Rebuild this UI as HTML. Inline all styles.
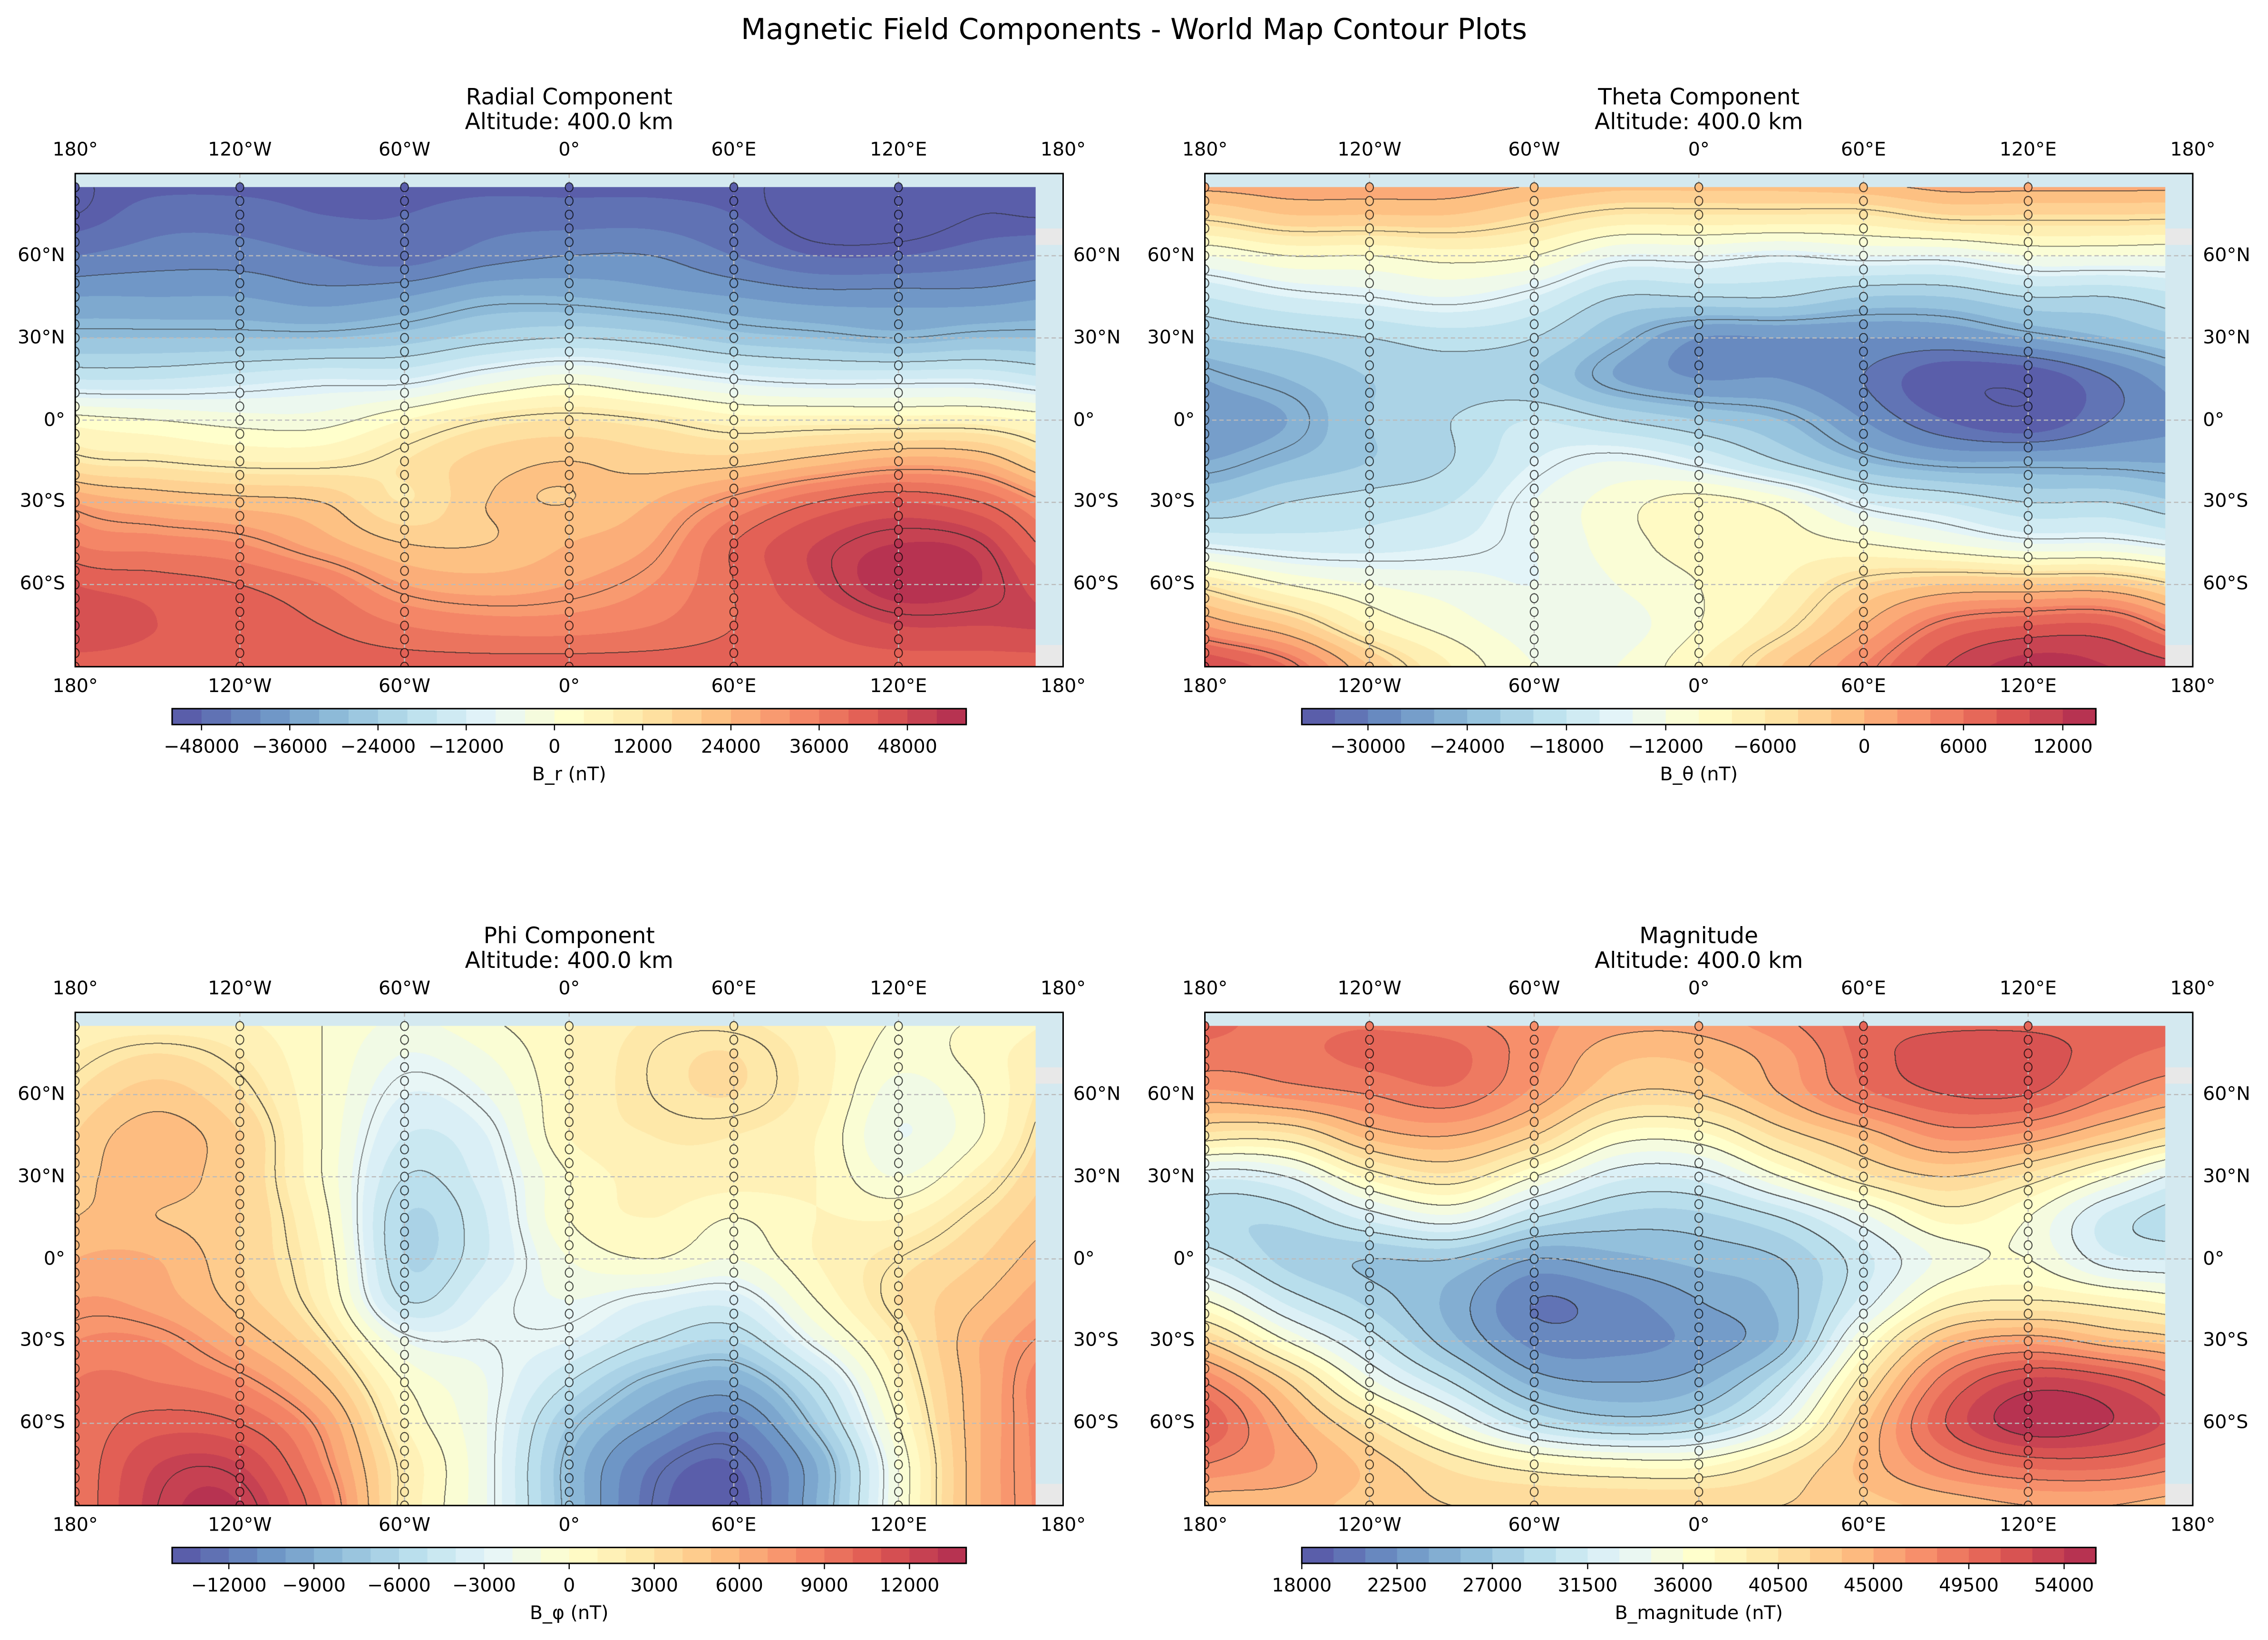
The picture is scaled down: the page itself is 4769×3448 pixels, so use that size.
<!DOCTYPE html>
<html><head><meta charset="utf-8">
<style>
html,body{margin:0;padding:0;background:#fff;width:4769px;height:3448px;overflow:hidden}
#root{position:absolute;left:0;top:0;width:1568px;height:1134px;transform:scale(3.04145,3.0406);transform-origin:0 0;font-family:"DejaVu Sans","Liberation Sans",sans-serif;color:#000}
.t{position:absolute;white-space:nowrap;transform:translate(-50%,-50%);line-height:1}
.r{transform:translate(-100%,-50%)}
.l{transform:translate(0,-50%)}
canvas{position:absolute}
svg{position:absolute;overflow:visible}
</style></head><body>
<div id="root">
<div class="t" style="left:784px;top:20px;font-size:20px">Magnetic Field Components - World Map Contour Plots</div>
</div>
<script>
// ---- data grids: rows lat 90..-90 step 15, cols lon -180..150 step 30 ----
const gridLats=[90,75,60,45,30,15,0,-15,-30,-45,-60,-75,-90];
const gridLons=[-180,-150,-120,-90,-60,-30,0,30,60,90,120,150];
const radialValues=[
[-50000,-50000,-50000,-50000,-50000,-50000,-50000,-50000,-50000,-50000,-50000,-50000],
[-50000,-46000,-46000,-48000,-48000,-46000,-46000,-46000,-48000,-52000,-52000,-50000],
[-44000,-42000,-42000,-44000,-46000,-42000,-40000,-40000,-44000,-48000,-48000,-46000],
[-36000,-36000,-36000,-38000,-36000,-32000,-32000,-34000,-36000,-38000,-38000,-38000],
[-28000,-28000,-28000,-28000,-26000,-22000,-20000,-22000,-26000,-28000,-30000,-28000],
[-16000,-16000,-14000,-12000,-12000,-6000,-2000,-6000,-10000,-12000,-12000,-12000],
[2000,0,-2000,-2000,4000,10000,12000,10000,6000,6000,6000,6000],
[12000,10000,8000,8000,12000,18000,20000,18000,18000,22000,26000,24000],
[28000,24000,22000,20000,12000,20000,20000,24000,32000,40000,44000,40000],
[36000,34000,32000,26000,20000,20000,24000,28000,40000,48000,52000,50000],
[44000,42000,40000,36000,28000,26000,28000,32000,40000,48000,54000,52000],
[48000,44000,42000,40000,36000,34000,34000,36000,40000,44000,48000,48000],
[42000,42000,42000,42000,42000,42000,42000,42000,42000,42000,42000,42000]];
const thetaValues=[
[2000,2000,2000,2000,1000,0,0,0,1000,2000,2000,2000],
[-4000,-2000,-2000,-2000,-4000,-6000,-6000,-6000,-6000,-4000,-4000,-4000],
[-12000,-10000,-10000,-9000,-10000,-14000,-14000,-15000,-14000,-14000,-12000,-12000],
[-18000,-16000,-15000,-14000,-16000,-20000,-20000,-20000,-22000,-22000,-20000,-20000],
[-22000,-21000,-20000,-19000,-20000,-24000,-28000,-28000,-28000,-28000,-26000,-24000],
[-26000,-24000,-22000,-21000,-22000,-26000,-28000,-28000,-30000,-34000,-34000,-30000],
[-28000,-26000,-22000,-20000,-18000,-20000,-22000,-24000,-28000,-32000,-34000,-30000],
[-26000,-24000,-22000,-20000,-16000,-14000,-16000,-20000,-24000,-26000,-26000,-26000],
[-22000,-20000,-19000,-18000,-14000,-11000,-9000,-11000,-16000,-18000,-20000,-20000],
[-16000,-17000,-17000,-16000,-14000,-11000,-9000,-9000,-10000,-12000,-14000,-14000],
[-6000,-10000,-12000,-13000,-14000,-12000,-10000,-8000,-4000,-2000,-2000,-2000],
[2000,-2000,-8000,-11000,-13000,-13000,-10000,-6000,0,6000,8000,8000],
[10000,6000,-2000,-8000,-12000,-12000,-8000,-2000,4000,10000,13000,12000]];
const phiValues=[
[1000,1000,1000,0,-1000,0,1000,2000,2000,1000,0,0],
[2000,3000,2000,0,-2000,-1000,1000,2500,3000,1500,-500,500],
[3000,4500,3000,0,-3000,-2000,1000,2500,3000,1500,-1500,0],
[4000,5500,4000,0,-4000,-3000,1000,2000,2000,1000,-2000,0],
[4500,5500,4000,0,-5000,-3500,0,1500,1500,1000,-1000,1500],
[5000,5000,4000,500,-6000,-4000,0,1000,0,1000,1000,3000],
[6000,6000,4000,1000,-6000,-4000,-1000,0,-1000,1000,2500,4000],
[7000,6500,4500,1500,-5000,-3000,-2000,-3000,-3500,0,3000,5000],
[8000,8000,6000,3000,-2000,-2500,-3000,-5000,-6000,-2000,2000,6000],
[9000,9000,8000,5000,0,-2000,-5000,-8000,-9000,-5000,1000,6000],
[9000,10500,10000,7000,1000,-2000,-7000,-10000,-11500,-7000,0,6000],
[9000,12000,12000,8000,2000,-2000,-8000,-12000,-13000,-9000,-1000,6000],
[9000,12500,13000,9000,2000,-2000,-8000,-12500,-13500,-9000,-1000,6000]];
const magnitudeValues=[
[50000,49000,49000,48000,47000,46000,46000,48000,50000,50000,50000,50000],
[49000,49000,50000,50000,47000,44000,44000,46000,50000,52000,52000,50000],
[46000,47000,48000,49000,46000,42000,42000,45000,49000,51000,51000,48000],
[40000,40000,44000,45000,42000,37000,37000,41000,44000,47000,46000,43000],
[32000,33000,38000,40000,36000,32000,32000,36000,40000,42000,40000,36000],
[29000,29000,32000,34000,30000,28000,28000,30000,34000,38000,36000,31000],
[31000,28000,27000,27000,24000,25000,26000,27000,31000,35000,36000,32000],
[36000,31000,28000,25000,21000,22000,24000,26000,32000,38000,39000,38000],
[42000,36000,31000,26000,22000,22000,23000,26000,36000,44000,46000,44000],
[48000,42000,35000,30000,25000,24000,25000,30000,40000,49000,53000,52000],
[51000,45000,40000,35000,30000,28000,29000,34000,43000,51000,55000,54000],
[48000,46000,43000,40000,38000,37000,37000,40000,44000,48000,50000,50000],
[44000,44000,43000,42000,42000,42000,42000,42000,43000,44000,45000,45000]];
const radialTicks=[-48000,-36000,-24000,-12000,0,12000,24000,36000,48000];
const thetaTicks=[-30000,-24000,-18000,-12000,-6000,0,6000,12000];
const phiTicks=[-12000,-9000,-6000,-3000,0,3000,6000,9000,12000];
const magnitudeTicks=[18000,22500,27000,31500,36000,40500,45000,49500,54000];
const lonTickLabels=["180°","120°W","60°W","0°","60°E","120°E","180°"];
const lonTickValues=[-180,-120,-60,0,60,120,180];
const latTickLabels=["60°N","30°N","0°","30°S","60°S"];
const latTickValues=[60,30,0,-30,-60];
const dotLons=[-180,-120,-60,0,60,120];

const panels=[
 {key:'radial',title:'Radial Component',x0:52,y0:120,grid:radialValues,vmin:-52000,step:4000,n:27,lineStep:10000,ticks:radialTicks,label:'B_r (nT)'},
 {key:'theta',title:'Theta Component',x0:833,y0:120,grid:thetaValues,vmin:-34000,step:2000,n:24,lineStep:5000,ticks:thetaTicks,label:'B_θ (nT)'},
 {key:'phi',title:'Phi Component',x0:52,y0:700,grid:phiValues,vmin:-14000,step:1000,n:28,lineStep:2500,ticks:phiTicks,label:'B_φ (nT)'},
 {key:'magnitude',title:'Magnitude',x0:833,y0:700,grid:magnitudeValues,vmin:18000,step:1500,n:25,lineStep:3000,ticks:magnitudeTicks,label:'B_magnitude (nT)'}
];
const AW=683,AH=341,SC=3;
const nodes=[[49,54,149],[69,117,180],[116,173,209],[171,217,233],[224,243,248],[255,255,191],[254,224,144],[253,174,97],[244,109,67],[215,48,39],[165,0,38]];
function cmap(t){t=Math.max(0,Math.min(1,t));const f=t*10,i=Math.min(9,Math.floor(f)),u=f-i;
 const c=nodes[i].map((v,k)=>v+(nodes[i+1][k]-v)*u);return c.map(v=>Math.round(v*0.8+255*0.2));}
function cr(p0,p1,p2,p3,t){return 0.5*(2*p1+(-p0+p2)*t+(2*p0-5*p1+4*p2-p3)*t*t+(-p0+3*p1-3*p2+p3)*t*t*t);}
function field(g,lon,lat){
 const fx=(lon+180)/30,i=Math.floor(fx),t=fx-i;
 const fy=(90-lat)/15,j=Math.floor(fy),u=fy-j;
 const rows=[];
 for(let r=j-1;r<=j+2;r++){const rr=g[Math.max(0,Math.min(12,r))];
  const c=k=>rr[((k%12)+12)%12];
  rows.push(cr(c(i-1),c(i),c(i+1),c(i+2),t));}
 return cr(rows[0],rows[1],rows[2],rows[3],u);}
const xOf=(p,lon)=>p.x0+(lon+180)/360*AW;
const yOf=(p,lat)=>p.y0+(90-lat)/180*AH;
const root=document.getElementById('root');
function txt(s,x,y,size,cls,name){const d=document.createElement('div');d.className='t '+(cls||'');
 d.style.left=x+'px';d.style.top=y+'px';d.style.fontSize=size+'px';d.textContent=s;
 
 
 root.appendChild(d);return d;}
const NS='http://www.w3.org/2000/svg';
function se(tag,attrs,parent){const e=document.createElementNS(NS,tag);for(const k in attrs)e.setAttribute(k,attrs[k]);parent.appendChild(e);return e;}

panels.forEach(p=>{
 const colors=[];for(let k=0;k<p.n;k++)colors.push(cmap(k/(p.n-1)));
 const cv=document.createElement('canvas');
 
 
 cv.width=AW*SC;cv.height=AH*SC;cv.style.left=p.x0+'px';cv.style.top=p.y0+'px';cv.style.width=AW+'px';cv.style.height=AH+'px';
 root.appendChild(cv);
 const ctx=cv.getContext('2d');const W=cv.width,H=cv.height;
 const img=ctx.createImageData(W,H);const d=img.data;
 const lvl=new Int16Array(W*H).fill(-9999);
 const xEnd=Math.round(350/360*W),yStart=Math.round(5/180*H);
 for(let y=0;y<H;y++){const lat=90-(y+0.5)/H*180;
  for(let x=0;x<W;x++){const o=(y*W+x)*4;
   if(x<xEnd&&y>=yStart){const lon=-180+(x+0.5)/W*360;const v=field(p.grid,lon,lat);
    let k=Math.floor((v-p.vmin)/p.step);k=Math.max(0,Math.min(p.n-1,k));const c=colors[k];
    d[o]=c[0];d[o+1]=c[1];d[o+2]=c[2];d[o+3]=255;lvl[y*W+x]=Math.floor(v/p.lineStep);}
   else{const gray=(x>=xEnd)&&((lat<70&&lat>64)||lat<-82);
    if(gray){d[o]=232;d[o+1]=232;d[o+2]=232;}else{d[o]=212;d[o+1]=233;d[o+2]=240;}d[o+3]=255;}}}
 for(let y=yStart;y<H-1;y++)for(let x=0;x<xEnd-1;x++){const a=lvl[y*W+x];
  if(a!==lvl[y*W+x+1]||a!==lvl[(y+1)*W+x]){for(const q of [y*W+x,y*W+x+1,(y+1)*W+x]){const o=q*4;
   const al=a<0?0.45:0.6;d[o]=d[o]*(1-al)+40*al;d[o+1]=d[o+1]*(1-al)+40*al;d[o+2]=d[o+2]*(1-al)+40*al;}}}
 ctx.putImageData(img,0,0);
 const sv=document.createElementNS(NS,'svg');sv.setAttribute('width',AW);sv.setAttribute('height',AH);
 sv.style.left=p.x0+'px';sv.style.top=p.y0+'px';sv.setAttribute('viewBox',`${p.x0} ${p.y0} ${AW} ${AH}`);
 
 
 root.appendChild(sv);
 const cid='clip-'+p.key;const cp=se('clipPath',{id:cid},se('defs',{},sv));se('rect',{x:p.x0,y:p.y0,width:AW,height:AH},cp);
 const g=se('g',{'clip-path':`url(#${cid})`},sv);
 latTickValues.forEach(lat=>{const l=se('line',{x1:p.x0,x2:p.x0+AW,y1:yOf(p,lat),y2:yOf(p,lat),stroke:'#bbb','stroke-width':0.8,'stroke-dasharray':'3,2'},g);
  
  });
 [-120,-60,0,60,120].forEach(lon=>{const l=se('line',{x1:xOf(p,lon),x2:xOf(p,lon),y1:p.y0,y2:p.y0+AH,stroke:'#bbb','stroke-width':0.8,'stroke-dasharray':'3,2'},g);
  
  });
 dotLons.forEach(lon=>{for(let lat=85;lat>=-90;lat-=5){const v=field(p.grid,lon,lat);
  const c=cmap(Math.max(0,Math.min(p.n-1,Math.floor((v-p.vmin)/p.step)))/(p.n-1));
  const e=se('ellipse',{cx:xOf(p,lon),cy:yOf(p,lat),rx:2.7,ry:3.1,fill:`rgb(${c[0]},${c[1]},${c[2]})`,stroke:'rgba(0,0,0,0.7)','stroke-width':0.7},g);
  
  }});
 const fr=se('rect',{x:p.x0,y:p.y0,width:AW,height:AH,fill:'none',stroke:'#000','stroke-width':1},sv);
 
 
 const cx=p.x0+AW/2;
 txt(p.title,cx,p.y0-52,15.5,'',p.key+'-title');
 txt('Altitude: 400.0 km',cx,p.y0-35,15.5,'',p.key+'-subtitle');
 lonTickValues.forEach((lon,i)=>{txt(lonTickLabels[i],xOf(p,lon),p.y0-16,13,'',p.key+'-top-lon-label');
  txt(lonTickLabels[i],xOf(p,lon),p.y0+AH+14,13,'',p.key+'-bottom-lon-label');});
 latTickValues.forEach((lat,i)=>{txt(latTickLabels[i],p.x0-7,yOf(p,lat),13,'r',p.key+'-left-lat-label');
  txt(latTickLabels[i],p.x0+AW+7,yOf(p,lat),13,'l',p.key+'-right-lat-label');});
 const cbx=cx-274.5,cbw=549,cby=p.y0+370,cbh=11;
 const cb=document.createElementNS(NS,'svg');cb.setAttribute('width',cbw+2);cb.setAttribute('height',20);
 cb.style.left=(cbx-1)+'px';cb.style.top=(cby-1)+'px';
 
 
 root.appendChild(cb);
 const vmax=p.vmin+p.n*p.step;
 for(let k=0;k<p.n;k++){const c=colors[k];se('rect',{x:1+k*cbw/p.n,y:1,width:cbw/p.n+0.3,height:cbh,fill:`rgb(${c[0]},${c[1]},${c[2]})`},cb);}
 se('rect',{x:1,y:1,width:cbw,height:cbh,fill:'none',stroke:'#000','stroke-width':1},cb);
 p.ticks.forEach(tv=>{const tx=1+(tv-p.vmin)/(vmax-p.vmin)*cbw;se('line',{x1:tx,x2:tx,y1:1+cbh,y2:cbh+5,stroke:'#000','stroke-width':0.8},cb);
  txt(tv<0?'−'+Math.abs(tv):String(tv),cbx+tx-1,cby+27,13,'',p.key+'-colorbar-tick-label');});
 txt(p.label,cx,cby+46,13,'',p.key+'-colorbar-label');
});
</script>
</body></html>
